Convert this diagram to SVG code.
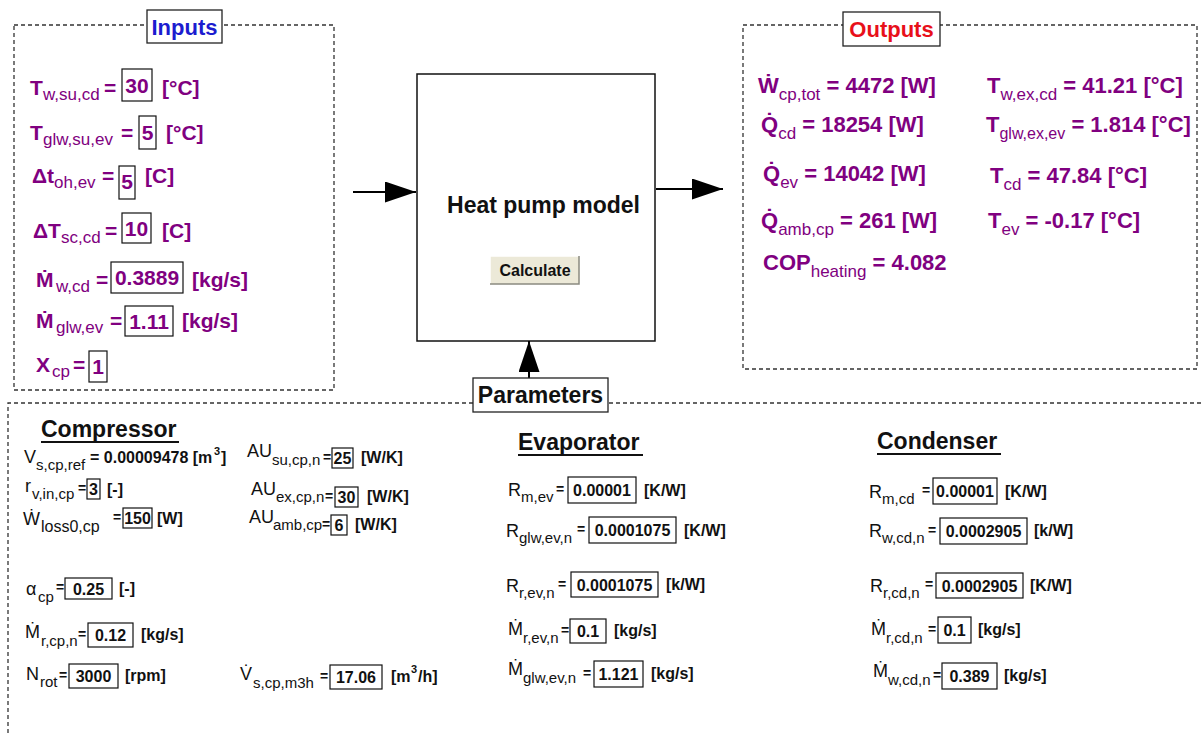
<svg xmlns="http://www.w3.org/2000/svg" width="1202" height="733" viewBox="0 0 1202 733">
<defs>
<style>
text{font-family:"Liberation Sans",Arial,sans-serif}
.dash{fill:none;stroke:#333;stroke-width:1.3;stroke-dasharray:4 3}
.tbox{fill:#fff;stroke:#222;stroke-width:1.3}
.vb{fill:#fff;stroke:#111;stroke-width:1.2}
.im{font-size:21px;font-weight:bold;fill:#800080}
.om{font-size:22px;font-weight:bold;fill:#800080}
.sb{font-size:17px;font-weight:normal}
.iv{font-size:21px;font-weight:bold;fill:#800080;text-anchor:middle}
.pl{font-size:18px;fill:#111}
.ps{font-size:15px;fill:#111}
.pe{font-size:14px;font-weight:bold;fill:#111}
.pv{font-size:16px;font-weight:bold;fill:#111;text-anchor:middle}
.pu{font-size:16px;font-weight:bold;fill:#111}
.hd{font-size:23px;font-weight:bold;fill:#111}
.ul{stroke:#111;stroke-width:2}
.conn{stroke:#000;stroke-width:2;fill:none}
</style>
<marker id="arrow" viewBox="0 0 31 21" refX="31" refY="10.5" markerWidth="31" markerHeight="21" orient="auto" markerUnits="userSpaceOnUse">
<path d="M0,0 L31,10.5 L0,21 Z" fill="#000"/>
</marker>
</defs>
<rect width="1202" height="733" fill="#fff"/>

<g id="inputs-panel">
<rect class="dash" x="14" y="25" width="320" height="365"/>
<rect class="tbox" x="147" y="10" width="75" height="33"/>
<text x="184.5" y="35" text-anchor="middle" style="font-size:22px;font-weight:bold;fill:#1c1ccf">Inputs</text>
<g id="in-twsucd">
<text class="im"><tspan x="30" y="95">T</tspan><tspan class="sb" x="43" y="100">w,su,cd</tspan><tspan x="104" y="95">=</tspan><tspan x="162" y="95">[°C]</tspan></text>
<rect class="vb" x="122" y="69" width="30" height="32"/><text class="iv" x="137" y="93">30</text>
</g>
<g id="in-tglwsuev">
<text class="im"><tspan x="30" y="140">T</tspan><tspan class="sb" x="43" y="145">glw,su,ev</tspan><tspan x="121" y="140">=</tspan><tspan x="166" y="140">[°C]</tspan></text>
<rect class="vb" x="139" y="116" width="17" height="33"/><text class="iv" x="147.5" y="140">5</text>
</g>
<g id="in-dtohev">
<text class="im"><tspan x="32" y="183">Δt</tspan><tspan class="sb" x="54" y="188">oh,ev</tspan><tspan x="102" y="183">=</tspan><tspan x="145" y="183">[C]</tspan></text>
<rect class="vb" x="119" y="166" width="16" height="33"/><text class="iv" x="127" y="189">5</text>
</g>
<g id="in-dtsccd">
<text class="im"><tspan x="33" y="238">ΔT</tspan><tspan class="sb" x="61" y="243">sc,cd</tspan><tspan x="105" y="238">=</tspan><tspan x="162" y="238">[C]</tspan></text>
<rect class="vb" x="122" y="213" width="29" height="30"/><text class="iv" x="136.5" y="236">10</text>
</g>
<g id="in-mwcd">
<text class="im"><tspan x="36" y="287">Ṁ</tspan><tspan class="sb" x="56" y="292">w,cd</tspan><tspan x="96" y="287">=</tspan><tspan x="192" y="287">[kg/s]</tspan></text>
<rect class="vb" x="111" y="262" width="72" height="31"/><text class="iv" x="147" y="285">0.3889</text>
</g>
<g id="in-mglwev">
<text class="im"><tspan x="36" y="328">Ṁ</tspan><tspan class="sb" x="56" y="333">glw,ev</tspan><tspan x="110" y="328">=</tspan><tspan x="182" y="328">[kg/s]</tspan></text>
<rect class="vb" x="125" y="306" width="48" height="30"/><text class="iv" x="149" y="329">1.11</text>
</g>
<g id="in-xcp">
<text class="im"><tspan x="36" y="372">X</tspan><tspan class="sb" x="52" y="377">cp</tspan><tspan x="73" y="372">=</tspan></text>
<rect class="vb" x="89" y="351" width="18" height="31"/><text class="iv" x="98" y="374">1</text>
</g>
</g>

<g id="outputs-panel">
<rect class="dash" x="743" y="25" width="454" height="344"/>
<rect class="tbox" x="843" y="12" width="97" height="34"/>
<text x="891.5" y="37" text-anchor="middle" style="font-size:22px;font-weight:bold;fill:#e8101a">Outputs</text>
<text class="om" x="758" y="93">Ẇ<tspan class="sb" dy="7">cp,tot</tspan><tspan dy="-7"> = 4472 [W]</tspan></text>
<text class="om" x="987" y="93">T<tspan class="sb" dy="7">w,ex,cd</tspan><tspan dy="-7"> = 41.21 [°C]</tspan></text>
<text class="om" x="761" y="132">Q̇<tspan class="sb" dy="7">cd</tspan><tspan dy="-7"> = 18254 [W]</tspan></text>
<text class="om" x="986" y="132">T<tspan class="sb" style="font-size:16px" dy="7">glw,ex,ev</tspan><tspan dy="-7"> = 1.814 [°C]</tspan></text>
<text class="om" x="763" y="181">Q̇<tspan class="sb" dy="7">ev</tspan><tspan dy="-7"> = 14042 [W]</tspan></text>
<text class="om" x="990" y="183">T<tspan class="sb" dy="7">cd</tspan><tspan dy="-7"> = 47.84 [°C]</tspan></text>
<text class="om" x="761" y="228">Q̇<tspan class="sb" dy="7">amb,cp</tspan><tspan dy="-7"> = 261 [W]</tspan></text>
<text class="om" x="988" y="228">T<tspan class="sb" dy="7">ev</tspan><tspan dy="-7"> = -0.17 [°C]</tspan></text>
<text class="om" x="763" y="270">COP<tspan class="sb" dy="7">heating</tspan><tspan dy="-7"> = 4.082</tspan></text>
</g>

<g id="model">
<rect x="417" y="74" width="238" height="267" fill="#fff" stroke="#111" stroke-width="1.5"/>
<text x="543.5" y="213" text-anchor="middle" class="hd">Heat pump model</text>
<g id="calculate-button">
<rect x="490" y="256" width="89" height="28" fill="#ece9d8"/>
<path d="M490,284 V256 H579" fill="none" stroke="#fff" stroke-width="1.5"/>
<path d="M490,284 H579 V256" fill="none" stroke="#8a8a80" stroke-width="1.5"/>
<text x="535" y="276" text-anchor="middle" style="font-size:16px;font-weight:bold;fill:#111">Calculate</text>
</g>
</g>

<g id="connectors">
<line class="conn" x1="353" y1="192" x2="416" y2="192" marker-end="url(#arrow)"/>
<line class="conn" x1="656" y1="189" x2="723" y2="189" marker-end="url(#arrow)"/>
<line class="conn" x1="529" y1="378" x2="529" y2="341" marker-end="url(#arrow)"/>
</g>

<g id="parameters-panel">
<path class="dash" d="M8,733 V403 H1202"/>
<rect class="tbox" x="473" y="378" width="135" height="34"/>
<text x="540.5" y="403" text-anchor="middle" class="hd">Parameters</text>

<g id="compressor">
<text class="hd" x="41" y="437">Compressor</text><line class="ul" x1="41" y1="442" x2="179" y2="442"/>
<text class="pl"><tspan x="24" y="463">V</tspan><tspan class="ps" x="36" y="470">s,cp,ref</tspan><tspan class="pu" x="90" y="463">= 0.00009478 [m</tspan><tspan class="pu" style="font-size:11px" x="214" y="455">3</tspan><tspan class="pu" x="221" y="463">]</tspan></text>
<text class="pl"><tspan x="25" y="492">r</tspan><tspan class="ps" x="32" y="499">v,in,cp</tspan><tspan class="pe" x="78" y="493">=</tspan><tspan class="pu" x="107" y="495">[-]</tspan></text>
<rect class="vb" x="87" y="479" width="13" height="20"/><text class="pv" x="93.5" y="495">3</text>
<text class="pl"><tspan x="23" y="525">Ẇ</tspan><tspan class="ps" x="41" y="532" style="font-size:16px">loss0,cp</tspan><tspan class="pe" x="113" y="522">=</tspan><tspan class="pu" x="157" y="524">[W]</tspan></text>
<rect class="vb" x="123" y="508" width="29" height="20"/><text class="pv" x="137.5" y="524">150</text>
<text class="pl"><tspan x="247" y="457">AU</tspan><tspan class="ps" x="272" y="465">su,cp,n</tspan><tspan class="pe" x="323" y="462">=</tspan><tspan class="pu" x="361" y="463">[W/K]</tspan></text>
<rect class="vb" x="332" y="448" width="21" height="20"/><text class="pv" x="342.5" y="464">25</text>
<text class="pl"><tspan x="251" y="495">AU</tspan><tspan class="ps" x="276" y="502">ex,cp,n</tspan><tspan class="pe" x="325" y="501">=</tspan><tspan class="pu" x="367" y="502">[W/K]</tspan></text>
<rect class="vb" x="335" y="487" width="23" height="20"/><text class="pv" x="346.5" y="503">30</text>
<text class="pl"><tspan x="249" y="523">AU</tspan><tspan class="ps" x="273" y="530">amb,cp</tspan><tspan class="pe" x="322" y="529">=</tspan><tspan class="pu" x="355" y="530">[W/K]</tspan></text>
<rect class="vb" x="331" y="515" width="16" height="20"/><text class="pv" x="339" y="531">6</text>
<text class="pl"><tspan x="26" y="595">α</tspan><tspan class="ps" x="38" y="602">cp</tspan><tspan class="pe" x="56" y="592">=</tspan><tspan class="pu" x="119" y="594">[-]</tspan></text>
<rect class="vb" x="65" y="578" width="47" height="21"/><text class="pv" x="88.5" y="594.5">0.25</text>
<text class="pl"><tspan x="25" y="638">Ṁ</tspan><tspan class="ps" x="41" y="646">r,cp,n</tspan><tspan class="pe" x="78" y="639">=</tspan><tspan class="pu" x="141" y="640">[kg/s]</tspan></text>
<rect class="vb" x="88" y="623" width="45" height="24"/><text class="pv" x="110.5" y="641">0.12</text>
<text class="pl"><tspan x="26" y="680">N</tspan><tspan class="ps" x="40" y="687">rot</tspan><tspan class="pe" x="59" y="680">=</tspan><tspan class="pu" x="125" y="681">[rpm]</tspan></text>
<rect class="vb" x="69" y="664" width="49" height="24"/><text class="pv" x="93.5" y="682">3000</text>
<text class="pl"><tspan x="240" y="680">V̇</tspan><tspan class="ps" x="253" y="688">s,cp,m3h</tspan><tspan class="pe" x="320" y="681">=</tspan><tspan class="pu" x="391" y="682">[m</tspan><tspan class="pu" style="font-size:11px" x="411" y="673">3</tspan><tspan class="pu" x="418" y="682">/h]</tspan></text>
<rect class="vb" x="330" y="665" width="52" height="24"/><text class="pv" x="356" y="683">17.06</text>
</g>

<g id="evaporator">
<text class="hd" x="518" y="450">Evaporator</text><line class="ul" x1="518" y1="455" x2="643" y2="455"/>
<text class="pl"><tspan x="508" y="496">R</tspan><tspan class="ps" x="521" y="502">m,ev</tspan><tspan class="pe" x="556" y="494">=</tspan><tspan class="pu" x="644" y="496">[K/W]</tspan></text>
<rect class="vb" x="568" y="477" width="68" height="26"/><text class="pv" x="602" y="496">0.00001</text>
<text class="pl"><tspan x="506" y="537">R</tspan><tspan class="ps" x="519" y="543">glw,ev,n</tspan><tspan class="pe" x="577" y="534">=</tspan><tspan class="pu" x="684" y="536">[K/W]</tspan></text>
<rect class="vb" x="589" y="517" width="87" height="26"/><text class="pv" x="632.5" y="536">0.0001075</text>
<text class="pl"><tspan x="506" y="592">R</tspan><tspan class="ps" x="519" y="598">r,ev,n</tspan><tspan class="pe" x="558" y="589">=</tspan><tspan class="pu" x="666" y="590">[k/W]</tspan></text>
<rect class="vb" x="571" y="572" width="87" height="25"/><text class="pv" x="614.5" y="590.5">0.0001075</text>
<text class="pl"><tspan x="508" y="635">Ṁ</tspan><tspan class="ps" x="523" y="643">r,ev,n</tspan><tspan class="pe" x="561" y="635">=</tspan><tspan class="pu" x="614" y="636">[kg/s]</tspan></text>
<rect class="vb" x="570" y="619" width="36" height="24"/><text class="pv" x="588" y="637">0.1</text>
<text class="pl"><tspan x="508" y="675">Ṁ</tspan><tspan class="ps" x="523" y="683">glw,ev,n</tspan><tspan class="pe" x="583" y="678">=</tspan><tspan class="pu" x="651" y="679">[kg/s]</tspan></text>
<rect class="vb" x="594" y="661" width="49" height="26"/><text class="pv" x="618.5" y="680">1.121</text>
</g>

<g id="condenser">
<text class="hd" x="877" y="449">Condenser</text><line class="ul" x1="877" y1="454" x2="1001" y2="454"/>
<text class="pl"><tspan x="869" y="498">R</tspan><tspan class="ps" x="882" y="504">m,cd</tspan><tspan class="pe" x="922" y="495">=</tspan><tspan class="pu" x="1005" y="497">[K/W]</tspan></text>
<rect class="vb" x="933" y="478" width="64" height="26"/><text class="pv" x="965" y="497">0.00001</text>
<text class="pl"><tspan x="869" y="537">R</tspan><tspan class="ps" x="882" y="543">w,cd,n</tspan><tspan class="pe" x="928" y="535">=</tspan><tspan class="pu" x="1034" y="536">[k/W]</tspan></text>
<rect class="vb" x="940" y="518" width="87" height="26"/><text class="pv" x="983.5" y="537">0.0002905</text>
<text class="pl"><tspan x="870" y="592">R</tspan><tspan class="ps" x="883" y="598">r,cd,n</tspan><tspan class="pe" x="925" y="589">=</tspan><tspan class="pu" x="1030" y="591">[K/W]</tspan></text>
<rect class="vb" x="936" y="573" width="87" height="25"/><text class="pv" x="979.5" y="591.5">0.0002905</text>
<text class="pl"><tspan x="871" y="635">Ṁ</tspan><tspan class="ps" x="886" y="643">r,cd,n</tspan><tspan class="pe" x="928" y="634">=</tspan><tspan class="pu" x="978" y="635">[kg/s]</tspan></text>
<rect class="vb" x="938" y="617" width="33" height="26"/><text class="pv" x="954.5" y="636">0.1</text>
<text class="pl"><tspan x="873" y="677">Ṁ</tspan><tspan class="ps" x="888" y="685">w,cd,n</tspan><tspan class="pe" x="933" y="680">=</tspan><tspan class="pu" x="1004" y="681">[kg/s]</tspan></text>
<rect class="vb" x="942" y="663" width="55" height="26"/><text class="pv" x="969.5" y="682">0.389</text>
</g>
</g>
</svg>
